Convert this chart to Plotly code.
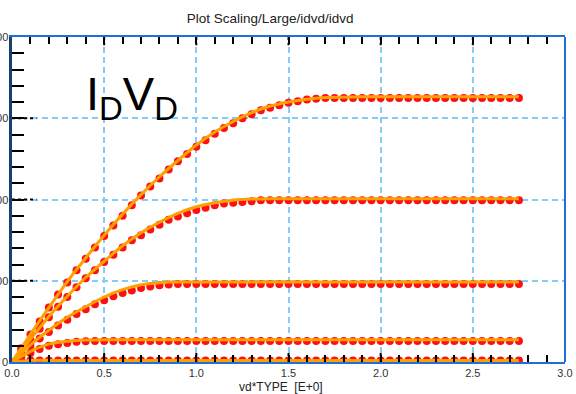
import plotly.graph_objects as go

# Drain voltage sweep (measured points)
vd = [0.0, 0.05, 0.1, 0.15, 0.2, 0.25, 0.3, 0.35, 0.4, 0.45,
      0.5, 0.55, 0.6, 0.65, 0.7, 0.75, 0.8, 0.85, 0.9, 0.95,
      1.0, 1.05, 1.1, 1.15, 1.2, 1.25, 1.3, 1.35, 1.4, 1.45,
      1.5, 1.55, 1.6, 1.65, 1.7, 1.75, 1.8, 1.85, 1.9, 1.95,
      2.0, 2.05, 2.1, 2.15, 2.2, 2.25, 2.3, 2.35, 2.4, 2.45,
      2.5, 2.55, 2.6, 2.65, 2.7, 2.75]

# Measured drain current, one list per gate bias
id_meas_1 = [0, 17, 34, 50, 67, 83, 98, 113, 127, 141,
             155, 168, 180, 193, 205, 216, 226, 237, 247, 256,
             265, 273, 281, 288, 294, 300, 305, 310, 313, 316,
             319, 321, 323, 324, 325, 325, 325, 325, 325, 325,
             325, 325, 325, 325, 325, 325, 325, 325, 325, 325,
             325, 325, 325, 325, 325, 325]
id_meas_2 = [0, 13, 27, 41, 55, 68, 80, 92, 103, 113,
             123, 132, 141, 150, 156, 163, 169, 175, 179, 183,
             187, 190, 193, 195, 196, 197, 198, 199, 199, 199,
             199, 199, 199, 199, 199, 199, 199, 199, 199, 199,
             199, 199, 199, 199, 199, 199, 199, 199, 199, 199,
             199, 199, 199, 199, 199, 199]
id_meas_3 = [0, 10, 20, 29, 37, 45, 52, 59, 65, 71,
             76, 81, 85, 88, 91, 93, 94.5, 95.5, 96, 96,
             96, 96, 96, 96, 96, 96, 96, 96, 96, 96,
             96, 96, 96, 96, 96, 96, 96, 96, 96, 96,
             96, 96, 96, 96, 96, 96, 96, 96, 96, 96,
             96, 96, 96, 96, 96, 96]
id_meas_4 = [0, 6, 11, 16, 20, 22, 23.5, 25, 25.5, 26,
             26, 26, 26, 26, 26, 26, 26, 26, 26, 26,
             26, 26, 26, 26, 26, 26, 26, 26, 26, 26,
             26, 26, 26, 26, 26, 26, 26, 26, 26, 26,
             26, 26, 26, 26, 26, 26, 26, 26, 26, 26,
             26, 26, 26, 26, 26, 26]
id_meas_5 = [0, 1.5, 2, 2, 2, 2, 2, 2, 2, 2,
             2, 2, 2, 2, 2, 2, 2, 2, 2, 2,
             2, 2, 2, 2, 2, 2, 2, 2, 2, 2,
             2, 2, 2, 2, 2, 2, 2, 2, 2, 2,
             2, 2, 2, 2, 2, 2, 2, 2, 2, 2,
             2, 2, 2, 2, 2, 2]

# Simulated drain current on a coarser sweep
vd_sim = [0.0, 0.1, 0.2, 0.3, 0.4, 0.5, 0.6, 0.7, 0.8, 0.9,
          1.0, 1.1, 1.2, 1.3, 1.4, 1.5, 1.6, 1.7, 1.8, 1.9,
          2.0, 2.1, 2.2, 2.3, 2.4, 2.5, 2.6, 2.7, 2.75]
id_sim_1 = [0, 34, 67, 99, 128, 156, 182, 206, 228, 248,
            267, 283, 296, 307, 315, 320, 323.5, 325.5, 326, 326.5,
            326.5, 326.5, 326.5, 326.5, 326.5, 326.5, 326.5, 326.5, 326.5]
id_sim_2 = [0, 28, 56, 81, 104, 124, 143, 159, 172, 183,
            191, 196, 199, 200.5, 201, 201, 201, 201, 201, 201,
            201, 201, 201, 201, 201, 201, 201, 201, 201]
id_sim_3 = [0, 21, 39, 55, 68, 80, 89, 95, 97.5, 98.5,
            98.5, 98.5, 98.5, 98.5, 98.5, 98.5, 98.5, 98.5, 98.5, 98.5,
            98.5, 98.5, 98.5, 98.5, 98.5, 98.5, 98.5, 98.5, 98.5]
id_sim_4 = [0, 13, 22, 25.5, 27, 27.5, 27.5, 27.5, 27.5, 27.5,
            27.5, 27.5, 27.5, 27.5, 27.5, 27.5, 27.5, 27.5, 27.5, 27.5,
            27.5, 27.5, 27.5, 27.5, 27.5, 27.5, 27.5, 27.5, 27.5]
id_sim_5 = [0, 2, 2, 2, 2, 2, 2, 2, 2, 2,
            2, 2, 2, 2, 2, 2, 2, 2, 2, 2,
            2, 2, 2, 2, 2, 2, 2, 2, 2]

x_ticks = [0.0, 0.5, 1.0, 1.5, 2.0, 2.5, 3.0]
x_ticktext = ["0.0", "0.5", "1.0", "1.5", "2.0", "2.5", "3.0"]
y_ticks = [0, 100, 200, 300, 400]
y_ticktext = ["0", "100", "200", "300", "400"]

measured = [id_meas_1, id_meas_2, id_meas_3, id_meas_4, id_meas_5]
simulated = [id_sim_1, id_sim_2, id_sim_3, id_sim_4, id_sim_5]

RED = "#ff1010"
ORANGE = "#ffa000"
GRID = "#86cbf7"
FRAME = "#1f6fd6"
LEFT_AXIS = "#17406e"
FONT = "Liberation Sans, Arial, sans-serif"

fig = go.Figure()

for ys in measured:
    fig.add_trace(go.Scatter(
        x=vd, y=ys, mode="markers",
        marker=dict(color=RED, size=8, line=dict(width=0)),
        showlegend=False, hoverinfo="skip"))

for ys in simulated:
    fig.add_trace(go.Scatter(
        x=vd_sim, y=ys, mode="lines",
        line=dict(color=ORANGE, width=3, shape="spline", smoothing=0.6),
        showlegend=False, hoverinfo="skip"))

# Dotted major tick marks on the left, top and bottom edges
shapes = []
for yv in y_ticks[1:-1]:
    shapes.append(dict(type="line", xref="paper", yref="y",
                       x0=0.0, x1=0.044, y0=yv, y1=yv,
                       line=dict(color="black", width=2, dash="dot")))
for xv in x_ticks[1:-1]:
    shapes.append(dict(type="line", xref="x", yref="paper",
                       x0=xv, x1=xv, y0=0.0, y1=0.03,
                       line=dict(color="black", width=2, dash="dot")))
    shapes.append(dict(type="line", xref="x", yref="paper",
                       x0=xv, x1=xv, y0=1.0, y1=0.975,
                       line=dict(color="black", width=2, dash="dot")))
# Right-hand frame edge
shapes.append(dict(type="line", xref="paper", yref="paper",
                   x0=1, x1=1, y0=0, y1=1,
                   line=dict(color=FRAME, width=2)))

# Y tick labels sit tight against the left frame edge
annotations = [
    dict(text=label, xref="paper", yref="y", x=-0.004, y=val,
         xanchor="right", yanchor="middle", showarrow=False,
         font=dict(size=11, color="#333333", family=FONT))
    for val, label in zip(y_ticks, y_ticktext)
]
annotations += [
    dict(text="I<sub>D</sub>V<sub>D</sub>",
         xref="paper", yref="paper", x=0.13, y=0.915,
         xanchor="left", yanchor="top", showarrow=False,
         font=dict(size=47, color="black", family=FONT)),
    dict(text="vd*TYPE  [E+0]",
         xref="paper", yref="paper", x=0.486, y=-0.078,
         xanchor="center", yanchor="middle", showarrow=False,
         font=dict(size=12, color="#222222", family=FONT)),
]

fig.update_layout(
    width=576, height=394,
    margin=dict(l=12, r=11, t=37, b=32),
    paper_bgcolor="white", plot_bgcolor="white",
    font=dict(family=FONT, color="#333333"),
    title=dict(text="Plot Scaling/Large/idvd/idvd",
               x=0.469, xref="container", xanchor="center",
               y=0.954, yanchor="middle",
               font=dict(size=13.5, color="#222222")),
    shapes=shapes,
    annotations=annotations,
)

fig.update_xaxes(
    range=[0, 3], tickvals=x_ticks, ticktext=x_ticktext,
    showgrid=True, gridcolor=GRID, gridwidth=2, griddash="6px,4px",
    zeroline=False, showline=True, linecolor=FRAME, linewidth=2,
    mirror="ticks", ticks="inside", ticklen=0, automargin=False,
    minor=dict(dtick=0.1, ticks="inside", ticklen=7, tickwidth=2,
               tickcolor="black", showgrid=False),
    tickfont=dict(size=11, color="#333333"),
)

fig.update_yaxes(
    range=[0, 400], tickvals=y_ticks, showticklabels=False,
    showgrid=True, gridcolor=GRID, gridwidth=2, griddash="6px,4px",
    zeroline=False, showline=True, linecolor=LEFT_AXIS, linewidth=2.5,
    ticks="inside", ticklen=0, automargin=False,
    minor=dict(dtick=20, ticks="inside", ticklen=12, tickwidth=2,
               tickcolor="black", showgrid=False),
)

fig.write_html("out.html")
